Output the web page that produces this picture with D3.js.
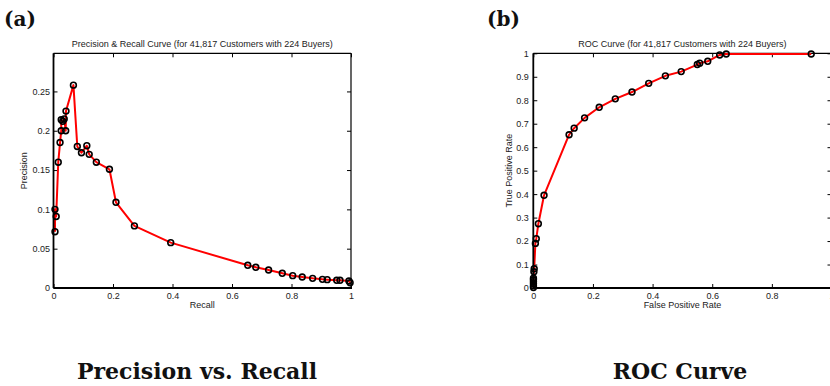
<!DOCTYPE html>
<html><head><meta charset="utf-8">
<script src="https://cdn.jsdelivr.net/npm/d3@7"></script>
<style>
body{margin:0;background:#fff;}
svg{display:block;}
</style></head>
<body>
<svg id="c" width="830" height="386"></svg>
<script>
// ---- Data ----
const prRecall = [0.005,0.005,0.009,0.016,0.022,0.026,0.026,0.031,0.036,0.041,0.042,0.067,0.080,0.094,0.112,0.120,0.144,0.188,0.210,0.272,0.394,0.653,0.680,0.723,0.769,0.804,0.836,0.871,0.904,0.920,0.952,0.963,0.993,0.997];
const prPrecision = [0.0716,0.100,0.091,0.160,0.185,0.200,0.214,0.212,0.215,0.200,0.225,0.258,0.180,0.172,0.181,0.170,0.160,0.151,0.109,0.079,0.0577,0.0289,0.0263,0.0229,0.0187,0.0157,0.0140,0.0123,0.0110,0.0106,0.0098,0.0098,0.0089,0.0067];
const rocFPR = [0.0005,0.0005,0.0005,0.0005,0.0005,0.0005,0.002,0.003,0.007,0.010,0.017,0.036,0.120,0.137,0.172,0.221,0.275,0.331,0.387,0.443,0.496,0.550,0.558,0.585,0.625,0.647,0.932];
const rocTPR = [0.002,0.009,0.018,0.027,0.035,0.042,0.069,0.082,0.190,0.210,0.274,0.395,0.653,0.681,0.725,0.770,0.806,0.835,0.872,0.904,0.922,0.952,0.958,0.966,0.993,0.997,0.997];
const prXTicks = [0,0.2,0.4,0.6,0.8,1];
const prYTicks = [0,0.05,0.1,0.15,0.2,0.25];
const rocXTicks = [0,0.2,0.4,0.6,0.8,1];
const rocYTicks = [0,0.1,0.2,0.3,0.4,0.5,0.6,0.7,0.8,0.9,1];
const panels = ["(a)","(b)"];
const titles = ["Precision & Recall Curve (for 41,817 Customers with 224 Buyers)","ROC Curve (for 41,817 Customers with 224 Buyers)"];
const xLabels = ["Recall","False Positive Rate"];
const yLabels = ["Precision","True Positive Rate"];
const captions = ["Precision vs. Recall","ROC Curve"];

const svg = d3.select("#c");
const fmt = d => d===0?"0":d===1?"1":String(+d.toFixed(2));
const sans = "'Liberation Sans', Arial, sans-serif";

function drawChart(opt){
  const g = svg.append("g");
  const x = d3.scaleLinear().domain([0,1]).range([opt.x0, opt.x1]);
  const y = d3.scaleLinear().domain([0,opt.ymax]).range([opt.y0, opt.y1]);
  const tl = 4;
  const bx = g.append("g").attr("transform",`translate(0,${opt.y0})`)
    .call(d3.axisBottom(x).tickValues(opt.xt).tickSize(-tl).tickPadding(5).tickFormat(fmt));
  const ly = g.append("g").attr("transform",`translate(${opt.x0},0)`)
    .call(d3.axisLeft(y).tickValues(opt.yt).tickSize(-tl).tickPadding(opt.ypad).tickFormat(fmt));
  const tx = g.append("g").attr("transform",`translate(0,${opt.y1})`)
    .call(d3.axisTop(x).tickValues(opt.xt).tickSize(-tl).tickFormat(""));
  const ry = g.append("g").attr("transform",`translate(${opt.x1},0)`)
    .call(d3.axisRight(y).tickValues(opt.yt).tickSize(-tl).tickFormat(""));
  [bx,ly,tx,ry].forEach(a=>{
    a.select(".domain").remove();
    a.selectAll("line").attr("stroke","#000").attr("stroke-width",1);
    a.selectAll("text").attr("font-family",sans).attr("font-size",9).attr("fill","#222");
  });
  // box
  g.append("line").attr("x1",opt.x0).attr("x2",opt.x1).attr("y1",opt.y1).attr("y2",opt.y1).attr("stroke","#000").attr("stroke-width",1.2);
  g.append("line").attr("x1",opt.x1).attr("x2",opt.x1).attr("y1",opt.y1).attr("y2",opt.y0).attr("stroke","#000").attr("stroke-width",1.2);
  // line
  const pts = opt.xs.map((v,i)=>[v,opt.ys[i]]);
  g.append("path").datum(pts)
    .attr("d", d3.line().x(d=>x(d[0])).y(d=>y(d[1])))
    .attr("fill","none").attr("stroke","#ff0000").attr("stroke-width",2).attr("stroke-linejoin","round");
  g.append("line").attr("x1",opt.x0).attr("x2",opt.x1+1).attr("y1",opt.y0).attr("y2",opt.y0).attr("stroke","#000").attr("stroke-width",1.8);
  g.append("line").attr("x1",opt.x0).attr("x2",opt.x0).attr("y1",opt.y1).attr("y2",opt.y0).attr("stroke","#000").attr("stroke-width",1.8);
  g.selectAll("circle.m").data(pts).join("circle").attr("class","m")
    .attr("cx",d=>x(d[0])).attr("cy",d=>y(d[1])).attr("r",2.9)
    .attr("fill","none").attr("stroke","#000").attr("stroke-width",1.6);
  // texts
  g.append("text").attr("x",(opt.x0+opt.x1)/2).attr("y",opt.y1-6).attr("text-anchor","middle")
    .attr("font-family",sans).attr("font-size",9).attr("fill","#222").text(opt.title);
  g.append("text").attr("x",(opt.x0+opt.x1)/2).attr("y",opt.y0+20).attr("text-anchor","middle")
    .attr("font-family",sans).attr("font-size",9).attr("fill","#222").text(opt.xl);
  g.append("text").attr("transform",`translate(${opt.ylx},${(opt.y0+opt.y1)/2}) rotate(-90)`).attr("text-anchor","middle")
    .attr("font-family",sans).attr("font-size",9).attr("fill","#222").text(opt.yl);
  svg.append("text").attr("x",opt.px).attr("y",26).attr("font-family","'DejaVu Serif', serif").attr("font-weight","bold")
    .attr("font-size",20).attr("fill","#111").text(opt.panel);
  svg.append("text").attr("x",opt.cx).attr("y",379).attr("text-anchor","middle").attr("font-family","'DejaVu Serif', serif").attr("font-weight","bold")
    .attr("font-size",22).attr("fill","#111").text(opt.caption);
}

drawChart({x0:53.5,x1:351,y0:288,y1:53.3,ymax:0.2985,xt:prXTicks,yt:prYTicks,xs:prRecall,ys:prPrecision,ypad:3.5,
  title:titles[0],xl:xLabels[0],yl:yLabels[0],ylx:27,panel:panels[0],px:4,caption:captions[0],cx:197});
drawChart({x0:533.3,x1:831.5,y0:288,y1:53.3,ymax:1,xt:rocXTicks,yt:rocYTicks,xs:rocFPR,ys:rocTPR,ypad:4.5,
  title:titles[1],xl:xLabels[1],yl:yLabels[1],ylx:512,panel:panels[1],px:487,caption:captions[1],cx:680});
</script>
</body></html>
